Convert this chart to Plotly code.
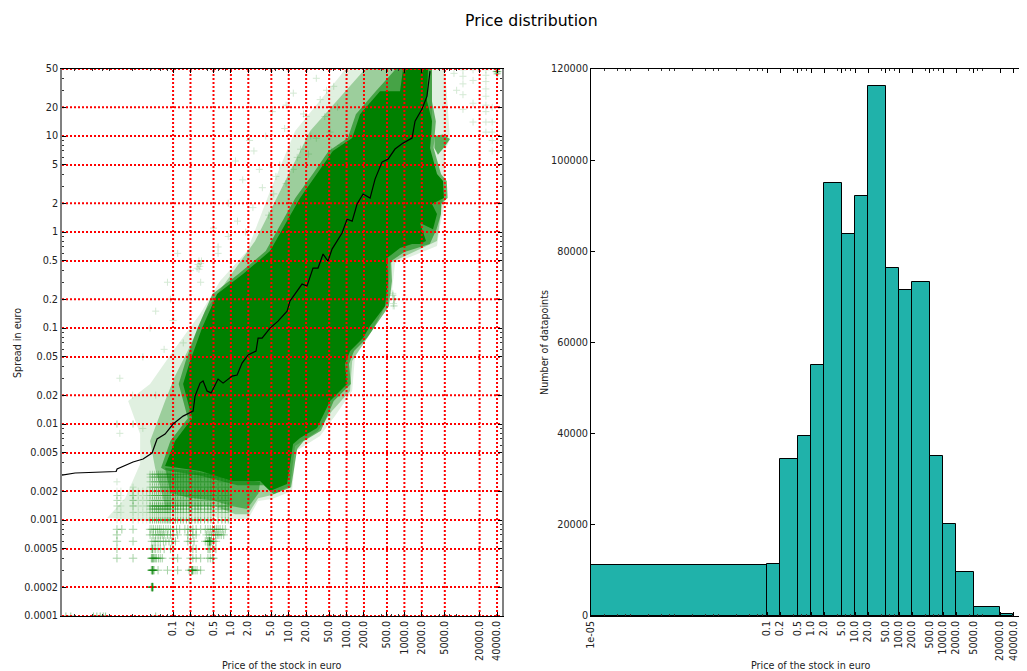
import plotly.graph_objects as go

W, H = 1027, 671

x_ticks_left = [0.1,0.2,0.5,1,2,5,10,20,50,100,200,500,1000,2000,5000,20000,40000]
x_labels = ["0.1","0.2","0.5","1.0","2.0","5.0","10.0","20.0","50.0","100.0","200.0","500.0","1000.0","2000.0","5000.0","20000.0","40000.0"]
y_ticks_left = [0.0001,0.0002,0.0005,0.001,0.002,0.005,0.01,0.02,0.05,0.1,0.2,0.5,1,2,5,10,20,50]
y_labels_left = ["0.0001","0.0002","0.0005","0.001","0.002","0.005","0.01","0.02","0.05","0.1","0.2","0.5","1","2","5","10","20","50"]

x_minor_left = [0.002,0.004,0.006,0.008,0.02,0.04,0.06,0.08,0.4,0.6,0.8,4,6,8,40,60,80,400,600,800,4000,6000,8000,40000]
y_minor_left = [0.0003,0.0004,0.0006,0.0007,0.0008,0.0009,0.003,0.004,0.006,0.007,0.008,0.009,
                0.03,0.04,0.06,0.07,0.08,0.09,0.3,0.4,0.6,0.7,0.8,0.9,3,4,6,7,8,9,30,40]

median_x = [0.0012,0.00202,0.01035,0.01076,0.0203,0.0303,0.0433,0.0529,0.0727,0.1,0.149,0.222,0.24,0.293,0.33,0.387,0.454,0.6,0.732,1.05,1.28,1.56,1.98,2.72,2.95,3.46,4.75,6.53,9.35,10.5,17.0,20.7,26.3,32.1,39.2,47.8,56.1,83.6,102,125,152,193,255,311,410,521,689,948,1356,1528,2018,2460,2774]
median_y = [0.00294,0.00309,0.0032,0.0034,0.00402,0.00432,0.00499,0.00698,0.00787,0.01,0.0121,0.01364,0.0196,0.0267,0.0281,0.0221,0.0211,0.0294,0.0267,0.0316,0.0324,0.0431,0.0524,0.0575,0.0787,0.0787,0.1,0.118,0.15,0.191,0.287,0.274,0.422,0.422,0.59,0.499,0.665,0.977,1.36,1.3,1.96,2.49,2.26,3.56,5.36,5.75,7.33,8.45,9.53,14.3,19.1,26.1,47.5]

core_x = [0.0727,0.293,1.09,3.19,4.75,9.35,11.9,15.7,30.9,51.8,102,94,115,193,255,462,521,501,841,1356,1864,2366,1864,3126,3664,3004,4840,4654,3664,2774,3004,2460,2564,948,841,379,171,125,58,30.9,15.7,4.75,1.62,0.577,0.317,0.197,0.149,0.213,0.108]
core_y = [0.00365,0.00324,0.00255,0.00255,0.002,0.00237,0.00619,0.00715,0.00909,0.0174,0.0261,0.0422,0.0575,0.0787,0.105,0.169,0.309,0.536,0.681,0.75,0.75,0.806,1.24,1.07,1.54,1.96,2.26,3.4,4.02,7.5,14.3,23.2,50,50,29.4,29.4,16.9,9.53,6.98,4.02,2.26,0.634,0.365,0.226,0.1,0.0453,0.0261,0.0115,0.00665]

inner_x = [0.062,0.09,0.18,0.125,0.165,0.265,0.48,1.35,4.0,13,26,49,105,145,320,710,3000,3000,3500,3200,4300,5400,5600,4300,4300,3600,2750,1600,1000,590,610,540,300,225,135,110,119,60,36,18,14,11,5.5,3.7,1.3,0.3,0.0727]
inner_y = [0.0035,0.0067,0.0115,0.0261,0.0453,0.1,0.226,0.365,0.634,2.26,4.02,6.98,9.53,16.9,29.4,50,50,23,14.3,7.5,4.02,3.4,2.26,1.96,1.54,1.07,0.75,0.68,0.62,0.5,0.309,0.169,0.1,0.0787,0.0575,0.0422,0.0261,0.0174,0.0085,0.0066,0.0055,0.0022,0.00185,0.0023,0.0023,0.0029,0.0033]

mid_x = [0.0489,0.04,0.0727,0.108,0.197,0.357,0.967,2.62,7.08,23.4,209,3003,3003,2774,3126,4654,3664,1528,565,521,275,125,115,56,32,12.9,10.5,5.15,2.95,1.98,1.18,0.532,0.197,0.0727]
mid_y = [0.00348,0.00665,0.0174,0.0316,0.065,0.15,0.348,0.806,2.67,11.3,50,50,11.3,6.98,2.9,2.26,0.806,0.634,0.475,0.191,0.0931,0.0453,0.0221,0.01364,0.00845,0.0059,0.00226,0.00182,0.00169,0.00115,0.00115,0.0014,0.0014,0.0014]

outer_x = [0.00723,0.0148,0.0269,0.0269,0.0167,0.04,0.1,0.293,0.65,1.9,4.75,12.9,77,94,5050,6150,5050,5050,5250,4130,3664,1864,689,611,311,140,125,63,34.8,13.4,11.4,5.15,2.95,1.98,1.05,0.532,0.293,0.04]
outer_y = [0.00105,0.00169,0.00383,0.00787,0.0174,0.0261,0.0575,0.14,0.309,0.634,2.67,11.3,42.2,50,50,9.31,6.98,3.4,2.26,1.155,0.714,0.604,0.475,0.243,0.105,0.051,0.0221,0.0121,0.0075,0.00523,0.002,0.00166,0.00158,0.00102,0.00102,0.00107,0.00098,0.00098]

lower_x = [0.0727,0.2,1.09,3.2,3.0,1.9,1.0,0.5,0.2,0.09]
lower_y = [0.0035,0.0033,0.0027,0.0025,0.0019,0.0013,0.0014,0.0016,0.0017,0.0019]

lobe_x = [3300,4600,6150,5000,3800,3300]
lobe_y = [10.0,10.4,9.3,7.8,6.4,7.5]

row_levels = [0.0008,0.0007,0.0006,0.0005,0.0004,0.0003,0.0002]
row_prices = [
    [0.0107,0.013,0.0203,0.04,0.043,0.046,0.05,0.054,0.058,0.062,0.068,0.075,0.082,0.09,0.1,0.115,0.13,0.16,0.18,0.2,0.22,0.25,0.3,0.36,0.4,0.44,0.48,0.52,0.56,0.6,0.65,0.72,0.8],
    [0.0107,0.04,0.045,0.05,0.055,0.06,0.065,0.07,0.08,0.09,0.1,0.12,0.18,0.2,0.22,0.25,0.38,0.42,0.46,0.5,0.54,0.58,0.62,0.68,0.75],
    [0.0107,0.0203,0.043,0.047,0.05,0.055,0.06,0.068,0.075,0.085,0.095,0.11,0.18,0.2,0.23,0.36,0.39,0.4,0.42,0.42,0.43,0.43,0.44,0.44,0.46,0.5,0.55],
    [0.0107,0.042,0.044,0.044,0.047,0.05,0.055,0.06,0.07,0.09,0.1,0.2,0.22,0.25,0.4,0.42,0.44,0.48,0.55],
    [0.0107,0.0203,0.042,0.043,0.044,0.045,0.046,0.048,0.05,0.052,0.056,0.06,0.065,0.1,0.12,0.2,0.22,0.25,0.3,0.4,0.44,0.48,0.5],
    [0.042,0.043,0.044,0.044,0.044,0.045,0.046,0.047,0.055,0.08,0.12,0.19,0.21,0.21,0.215,0.22,0.22,0.24,0.26,0.3],
    [0.042,0.043,0.043,0.044,0.044,0.044,0.045,0.045],
]

stripe_levels = [0.001,0.001,0.0012,0.0013,0.0014,0.0014,0.0016,0.0018,0.002,0.0022,0.0025,0.0028,0.003]
stripe_prices = [0.04,0.044,0.048,0.052,0.056,0.06,0.065,0.07,0.075,0.08,0.085,0.09,0.1,0.11,0.12,0.135,0.15,0.17,0.19,0.21,0.24,0.27,0.3,0.35,0.4,0.45,0.5,0.6,0.7,0.8,0.9]
faint_levels = [0.001,0.0012,0.0014,0.0016,0.0018,0.002]
faint_prices = [0.0107,0.0125,0.0203,0.0203,0.025,0.03,0.035]
tiny_x = [0.0014,0.0017,0.0042,0.0048,0.0055,0.0062,0.0068,0.05]
tiny_y = [0.0001,0.0001,0.0001,0.0001,0.0001,0.0001,0.0001,0.0001]

sparse_x = [0.0107,0.0107,0.0203,0.0203,0.0107,0.0203,0.0107,0.0203,0.28,0.27,0.3,0.29,0.26,0.31,0.28,0.0107,0.0203,0.0107,0.0203,
            0.012,0.02,0.03,0.05,0.04,0.07,0.09,0.012,0.03,0.05,0.1,0.08,0.15,0.2,0.12,0.3,0.5,0.6,0.9,1.3,1.8,2.4,3.5,4.5,5.5,7,9,12,16,
            22,30,1.2,2.1,3.1,5.2,8.5,12,18,24,35,42,52,60,70,80,0.9,0.6,1.6,2.5,4,6,9,14,20,30,45,55,
            10300,10300,10300,10300,10300,15400,15400,15400,15400,25700,25700,25700,25700,25700,25700,25700,25700,25700,7200,8000,
            40000,40000,40000,41000,39000,42000,38000,40000,40000,41000,39000,40000,33000,33000,33000,33000,33000,620,640,660,680,650,660,640,670,630]
sparse_y = [0.01,0.01,0.01,0.01,0.0016,0.0016,0.0014,0.0014,0.5,0.46,0.47,0.44,0.42,0.5,0.41,0.0025,0.0022,0.0018,0.0018,
            0.03,0.02,0.05,0.02,0.1,0.06,0.2,0.008,0.009,0.15,0.12,0.3,0.07,0.4,0.6,0.3,1.1,0.6,2.0,1.3,1.0,1.8,2.9,1.5,2.5,5,3.2,4.5,7.3,
            6.5,9.5,5.5,9,4.5,18,12,28,17,10,24,16,11,33,20,8,0.9,0.7,3.5,7,10,3.8,21,6,16,40,30,7,
            49,42,35,27,19,49,38,22,14,49,43,37,31,26,21,18,14,11,45,30,
            47,47,47,47,47,47,47,49,45,45,49,44,20,14,11,9,7,0.22,0.22,0.2,0.2,0.18,0.2,0.17,0.17,0.23]

hist_edges = [0.00001,0.1,0.2,0.5,1,2,5,10,20,50,100,200,500,1000,2000,5000,20000,40000]
hist_counts = [11200,11500,34500,39500,55000,95000,83700,92200,116300,76300,71500,73200,35000,20200,9700,2000,500]
x_ticks_right = [0.00001] + x_ticks_left
x_labels_right = ["1e-05"] + x_labels
x_minor_right = [2e-5,4e-5,6e-5,8e-5,2e-4,4e-4,6e-4,8e-4,0.002,0.004,0.006,0.008,0.02,0.04,0.06,0.08,0.4,0.6,0.8,4,6,8,40,60,80,400,600,800,4000,6000,8000,40000,60000,80000]
y_ticks_right = [0,20000,40000,60000,80000,100000,120000]

GREEN = "0,128,0"
fig = go.Figure()

def poly(xs, ys, alpha):
    fig.add_trace(go.Scatter(x=xs, y=ys, mode="lines", fill="toself", line=dict(width=0),
                             fillcolor=f"rgba({GREEN},{alpha})", xaxis="x", yaxis="y", hoverinfo="skip", showlegend=False))

def marks(xs, ys, alpha, size=5):
    fig.add_trace(go.Scatter(x=xs, y=ys, mode="markers",
                             marker=dict(symbol="cross-thin", size=size, opacity=alpha, line=dict(width=1, color=f"rgb({GREEN})")),
                             xaxis="x", yaxis="y", hoverinfo="skip", showlegend=False))

poly(outer_x, outer_y, 0.12)
poly(mid_x, mid_y, 0.3)
poly(lower_x, lower_y, 0.45)
poly(inner_x, inner_y, 0.55)
poly(lobe_x, lobe_y, 0.6)
poly(core_x, core_y, 1)
for lvl in stripe_levels:
    marks(stripe_prices, [lvl] * len(stripe_prices), 0.25)
for lvl in faint_levels:
    marks(faint_prices, [lvl] * len(faint_prices), 0.12)
for lvl, xs in zip(row_levels, row_prices):
    marks(xs, [lvl] * len(xs), 0.35, size=6)
marks(tiny_x, tiny_y, 0.4)
marks(sparse_x, sparse_y, 0.16)

YMIN, YMAX, XMIN, XMAX = 0.0001, 50, 0.0012, 48700
gx, gy = [], []
for v in x_ticks_left:
    gx += [v, v, None]; gy += [YMIN, YMAX, None]
for v in y_ticks_left:
    gx += [XMIN, XMAX, None]; gy += [v, v, None]
fig.add_trace(go.Scatter(x=gx, y=gy, mode="lines", line=dict(color="red", width=2, dash="2px,2px"),
                         xaxis="x", yaxis="y", hoverinfo="skip", showlegend=False))
fig.add_trace(go.Scatter(x=median_x, y=median_y, mode="lines", line=dict(color="black", width=1.2),
                         xaxis="x", yaxis="y", hoverinfo="skip", showlegend=False))

centers = [(a + b) / 2 for a, b in zip(hist_edges[:-1], hist_edges[1:])]
widths = [b - a for a, b in zip(hist_edges[:-1], hist_edges[1:])]
fig.add_trace(go.Bar(x=centers, y=hist_counts, width=widths, marker=dict(color="#20B2AA", line=dict(color="black", width=1)),
                     xaxis="x2", yaxis="y2", showlegend=False))

OFFX, OFFY = 8, 7  # page offset of the figure
tickfont = dict(family="DejaVu Sans", size=9.7, color="#222")
labelfont = dict(family="DejaVu Sans", size=9.6, color="#222")
dom_y = [1 - (615 - OFFY) / H, 1 - (68 - OFFY) / H]
common_x = dict(type="log", tickmode="array", ticks="inside", ticklen=4, tickwidth=1, tickcolor="black", showgrid=False,
                zeroline=False, tickangle=-90, tickfont=tickfont, mirror="allticks", linecolor="black", linewidth=1, showline=True)

def note(text, px, py, size=None, angle=0):
    return dict(text=text, x=(px - OFFX) / W, y=1 - (py - OFFY) / H, xref="paper", yref="paper", showarrow=False,
                xanchor="center", yanchor="middle", textangle=angle,
                font=dict(family="DejaVu Sans", size=size, color="black") if size else labelfont)

fig.update_layout(
    width=W, height=H, margin=dict(l=0, r=0, t=0, b=0, autoexpand=False), paper_bgcolor="white", plot_bgcolor="white",
    bargap=0, hovermode=False, showlegend=False,
    xaxis=dict(domain=[(62 - OFFX) / W, (502 - OFFX) / W], range=[-2.921, 4.688], tickvals=x_ticks_left, ticktext=x_labels,
               minor=dict(tickvals=x_minor_left, ticks="inside", ticklen=2, tickcolor="#333"), anchor="y", **common_x),
    yaxis=dict(domain=dom_y, type="log", range=[-4, 1.69897], tickmode="array", tickvals=y_ticks_left, ticktext=y_labels_left,
               ticks="inside", ticklen=4, tickcolor="black", showgrid=False, zeroline=False, tickfont=tickfont,
               minor=dict(tickvals=y_minor_left, ticks="inside", ticklen=2, tickcolor="#333"),
               mirror="allticks", showline=True, linecolor="#808080", linewidth=2, anchor="x"),
    xaxis2=dict(domain=[(591 - OFFX) / W, (1031 - OFFX) / W], range=[-5, 5], tickvals=x_ticks_right, ticktext=x_labels_right,
                minor=dict(tickvals=x_minor_right, ticks="inside", ticklen=2, tickcolor="#333"), anchor="y2", **common_x),
    yaxis2=dict(domain=dom_y, range=[0, 120000], tickmode="array", tickvals=y_ticks_right, ticks="inside", ticklen=4,
                tickcolor="black", showgrid=False, zeroline=False, tickfont=tickfont, tickformat="d",
                showline=True, linecolor="black", linewidth=1, anchor="x2"),
    annotations=[
        note("Price distribution", 531, 20, size=15.7),
        note("Price of the stock in euro", 282, 664),
        note("Price of the stock in euro", 811, 664),
        note("Spread in euro", 17, 342, angle=-90),
        note("Number of datapoints", 544, 342, angle=-90),
    ],
)
fig.write_html("out.html")
